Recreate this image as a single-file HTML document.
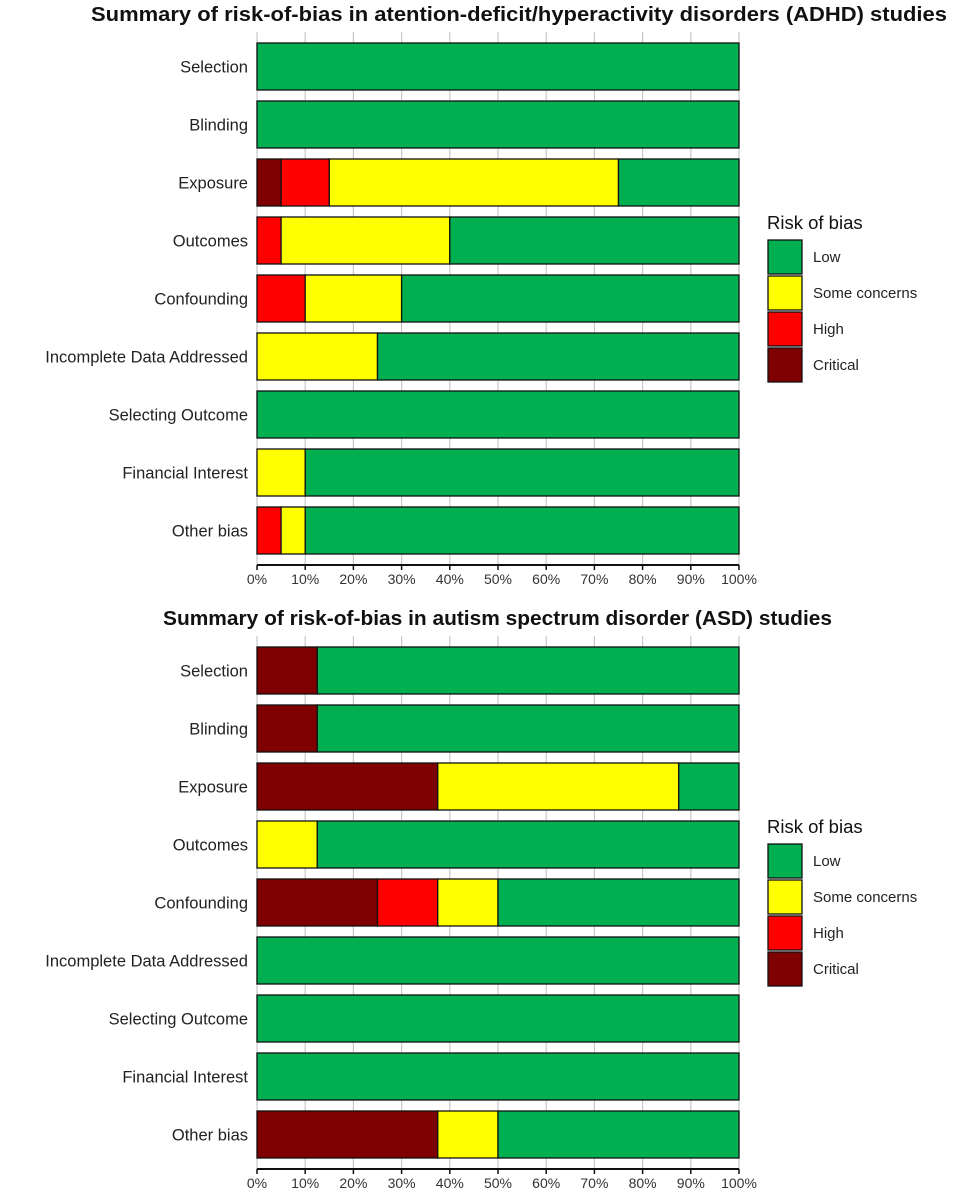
<!DOCTYPE html>
<html><head><meta charset="utf-8"><style>
body{margin:0;background:#fff;}
svg text{font-family:"Liberation Sans",sans-serif;}
</style></head><body>
<svg id="chart" width="962" height="1199" viewBox="0 0 962 1199" xmlns="http://www.w3.org/2000/svg"></svg>
<script>
const domains = ["Selection","Blinding","Exposure","Outcomes","Confounding","Incomplete Data Addressed","Selecting Outcome","Financial Interest","Other bias"];
const levels = ["Critical","High","Some concerns","Low"];
const levelColors = ["#7f0000","#ff0000","#ffff00","#00b050"];
const legendOrder = ["Low","Some concerns","High","Critical"];
const ticks = [0,10,20,30,40,50,60,70,80,90,100];
// ADHD: percentages per domain
const adhdCritical = [0,0,5,0,0,0,0,0,0];
const adhdHigh     = [0,0,10,5,10,0,0,0,5];
const adhdSome     = [0,0,60,35,20,25,0,10,5];
const adhdLow      = [100,100,25,60,70,75,100,90,90];
// ASD
const asdCritical = [12.5,12.5,37.5,0,25,0,0,0,37.5];
const asdHigh     = [0,0,0,0,12.5,0,0,0,0];
const asdSome     = [0,0,50,12.5,12.5,0,0,0,12.5];
const asdLow      = [87.5,87.5,12.5,87.5,50,100,100,100,50];

const NS="http://www.w3.org/2000/svg";
const svg=document.getElementById('chart');
function mk(tag,attrs,parent,text){const e=document.createElementNS(NS,tag);for(const k in attrs)e.setAttribute(k,attrs[k]);if(text!==undefined)e.textContent=text;(parent||svg).appendChild(e);return e;}
const X0=257,X1=739;
const xs=v=>X0+(X1-X0)*v/100;

function panel(title,titleX,titleW,top,series,key){
  const g=mk('g',{});
  
  
  const t=mk('text',{x:titleX,y:top-22,'font-size':20,'font-weight':'bold',fill:'#111',textLength:titleW,lengthAdjust:'spacingAndGlyphs'},g,title);
  
  
  const pitch=58, bh=47;
  const axisY=top+522;
  ticks.forEach(tv=>{
    const l=mk('line',{x1:xs(tv),x2:xs(tv),y1:top-11,y2:axisY,stroke:'#c8c8c8','stroke-width':1.2},g);
    
    
  });
  domains.forEach((d,i)=>{
    const y=top+i*pitch;
    const lab=mk('text',{x:248,y:y+bh/2+6,'font-size':16.5,fill:'#222','text-anchor':'end'},g,d);
    
    
    let acc=0;
    series.forEach((s,j)=>{
      const v=s[i]; if(v<=0)return;
      const r=mk('rect',{x:xs(acc),y:y,width:xs(acc+v)-xs(acc),height:bh,fill:levelColors[j],stroke:'#111','stroke-width':1.3},g);
      
      
      acc+=v;
    });
  });
  const ax=mk('line',{x1:X0,x2:X1,y1:axisY,y2:axisY,stroke:'#111','stroke-width':2},g);
  
  
  ticks.forEach(tv=>{
    const tk=mk('line',{x1:xs(tv),x2:xs(tv),y1:axisY,y2:axisY+5,stroke:'#111','stroke-width':1.5},g);
    
    
    const tl=mk('text',{x:xs(tv),y:axisY+19,'font-size':14,fill:'#333','text-anchor':'middle'},g,tv+'%');
    
    
  });
  const ly=top+197;
  const lg=mk('g',{},g);
  
  
  const lt=mk('text',{x:767,y:ly-11,'font-size':18.5,fill:'#111'},lg,'Risk of bias');
  
  
  legendOrder.forEach((n,k)=>{
    const c=levelColors[levels.indexOf(n)];
    const r=mk('rect',{x:768,y:ly+k*36,width:34,height:34,fill:c,stroke:'#111','stroke-width':1.3},lg);
    
    
    const tx=mk('text',{x:813,y:ly+k*36+22,'font-size':15,fill:'#222'},lg,n);
    
    
  });
}
panel("Summary of risk-of-bias in atention-deficit/hyperactivity disorders (ADHD) studies",91,856,43,[adhdCritical,adhdHigh,adhdSome,adhdLow],'adhd');
panel("Summary of risk-of-bias in autism spectrum disorder (ASD) studies",163,669,647,[asdCritical,asdHigh,asdSome,asdLow],'asd');
</script>
</body></html>
